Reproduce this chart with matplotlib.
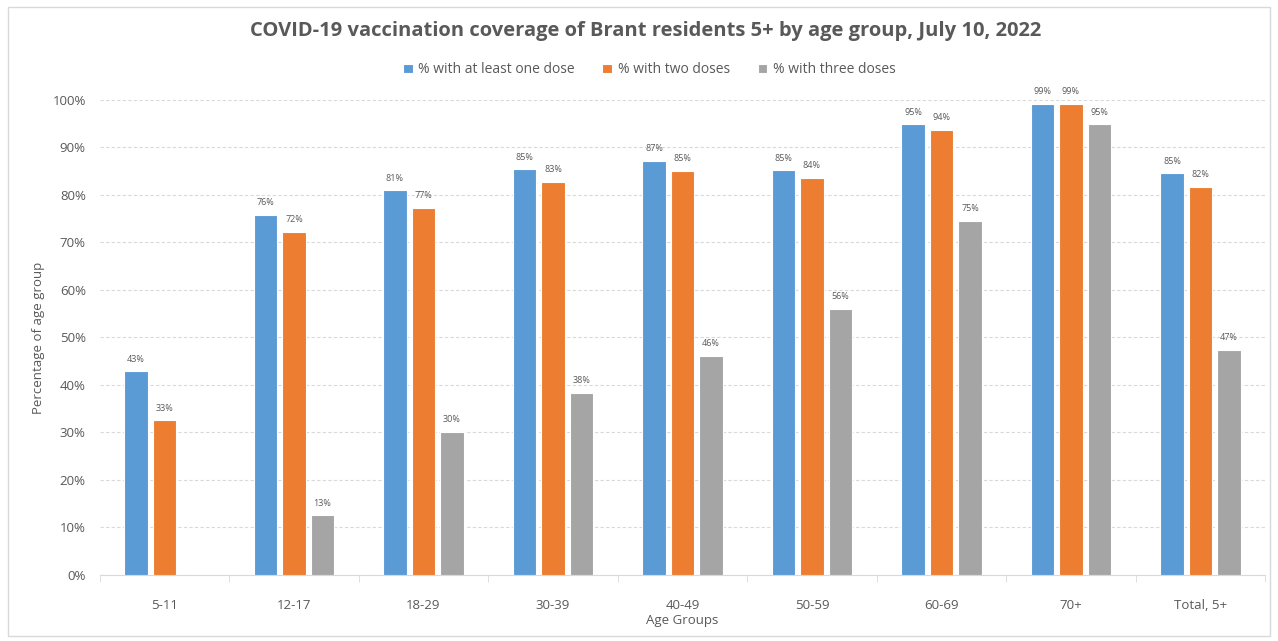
import numpy as np
import matplotlib.pyplot as plt
from matplotlib.patches import Rectangle
from matplotlib.ticker import PercentFormatter

# Age groups and coverage (%) per dose level
age_groups = ['5-11', '12-17', '18-29', '30-39', '40-49', '50-59', '60-69', '70+', 'Total, 5+']
one_dose = [42.9, 75.8, 81.0, 85.4, 87.2, 85.2, 94.9, 99.2, 84.6]
two_doses = [32.6, 72.2, 77.3, 82.8, 85.1, 83.6, 93.7, 99.2, 81.7]
three_doses = [np.nan, 12.6, 30.1, 38.3, 46.1, 56.0, 74.6, 94.9, 47.4]

series_names = ['% with at least one dose', '% with two doses', '% with three doses']
colors = ['#5B9BD5', '#ED7D31', '#A5A5A5']
text_color = '#595959'

plt.rcParams['font.family'] = ['Open Sans', 'DejaVu Sans']

fig = plt.figure(figsize=(12.78, 6.41), dpi=100)
ax = fig.add_axes([0.078, 0.103, 0.912, 0.741])

# light frame round the whole chart
fig.patches.append(Rectangle((0.006, 0.008), 0.988, 0.981, transform=fig.transFigure,
                             fill=False, edgecolor='#D9D9D9', linewidth=1))

x = np.arange(len(age_groups))
width = 0.18
step = 0.22

for i, (vals, name, col) in enumerate(zip([one_dose, two_doses, three_doses], series_names, colors)):
    pos = x + (i - 1) * step
    bars = ax.bar(pos, vals, width, color=col, edgecolor='white', linewidth=0.8, label=name, zorder=3)
    for xp, v in zip(pos, vals):
        if np.isnan(v):
            continue
        ax.text(xp, v + 1.6, f"{v:.0f}%", ha='center', va='bottom', fontsize=6.5,
                color=text_color, clip_on=False)

ax.set_xlim(-0.5, len(age_groups) - 0.5)
ax.set_ylim(0, 100)
ax.set_yticks(np.arange(0, 101, 10))
ax.yaxis.set_major_formatter(PercentFormatter(decimals=0))
ax.grid(axis='y', color='#D9D9D9', linestyle=(0, (3, 2)), linewidth=0.8, zorder=0)

ax.set_xticks(x)
ax.set_xticklabels(age_groups)
ax.set_xticks(np.arange(-0.5, len(age_groups), 1), minor=True)
ax.tick_params(axis='x', which='major', length=0, pad=17, labelsize=9.5, labelcolor=text_color)
ax.tick_params(axis='x', which='minor', length=5, color='#D9D9D9', direction='out')
ax.tick_params(axis='y', length=0, pad=10, labelsize=9.5, labelcolor=text_color)

for side in ['top', 'right', 'left']:
    ax.spines[side].set_visible(False)
ax.spines['bottom'].set_color('#D9D9D9')

ax.set_xlabel('Age Groups', fontsize=9.5, color=text_color, labelpad=2)
ax.set_ylabel('Percentage of age group', fontsize=9.5, color=text_color, labelpad=5)

fig.suptitle('COVID-19 vaccination coverage of Brant residents 5+ by age group, July 10, 2022',
             x=0.505, y=0.968, fontsize=14.5, fontweight='bold', color=text_color)

leg = fig.legend(loc='center', bbox_to_anchor=(0.508, 0.891), ncol=3, frameon=False,
                 fontsize=10, handlelength=0.7, handleheight=0.7, handletextpad=0.4,
                 columnspacing=2.0, labelcolor=text_color)

fig.savefig('out.png', dpi=100)
